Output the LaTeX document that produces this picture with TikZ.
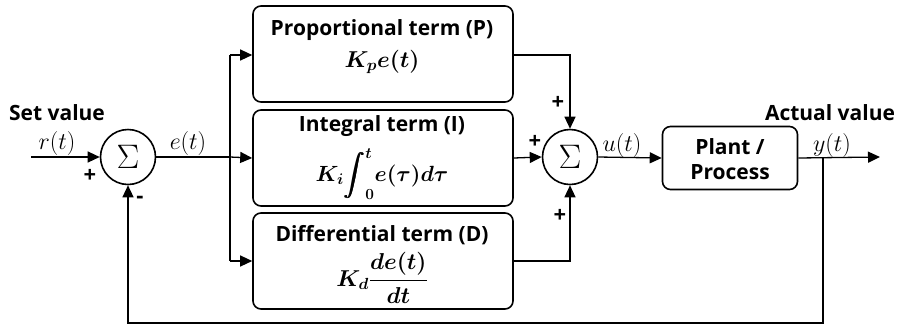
\RequirePackage{fix-cm}
\documentclass[tikz,border=0pt]{standalone}
\usepackage{amsmath,bm}
\usepackage{fontspec}
\setmainfont{Open Sans}
\usetikzlibrary{arrows.meta}
\begin{document}
\begin{tikzpicture}[x=1pt,y=-1pt,
  line width=1.3pt,
  arr/.style={-{Triangle[length=12pt,width=11pt]}},
  blk/.style={draw,rounded corners=8pt,line width=1.6pt,inner sep=0pt},
  ttl/.style={font=\bfseries\fontsize{21}{25}\selectfont,align=center,inner sep=0pt},
  fml/.style={font=\fontsize{23}{26}\selectfont,inner sep=0pt},
  sumc/.style={draw,circle,minimum size=55pt,inner sep=0pt,line width=1.6pt},
  sig/.style={font=\fontsize{34}{36}\selectfont,inner sep=0pt},
  lab/.style={font=\fontsize{24}{26}\selectfont,inner sep=0pt},
  sgn/.style={font=\bfseries\fontsize{22}{24}\selectfont,inner sep=0pt}]
\useasboundingbox (0,0) rectangle (899,325);
% summing junctions
\node[sumc] (s1) at (128,157) {};
\node[sumc] (s2) at (570,157) {};
\node[sig] (g1) at (s1.center) {$\Sigma$};
\node[sig] (g2) at (s2.center) {$\Sigma$};
% blocks
\node[blk,minimum width=260pt,minimum height=96pt] (P) at (383,54) {};
\node[blk,minimum width=260pt,minimum height=96pt] (I) at (383,158) {};
\node[blk,minimum width=260pt,minimum height=96pt] (D) at (383,261) {};
\node[blk,minimum width=135pt,minimum height=63pt] (G) at (730,158) {};
% block texts
\node[ttl] (Pt) at (382,30) {Proportional term (P)};
\node[fml] (Pf) at (382,62) {$\bm{K_p e(t)}$};
\node[ttl] (It) at (382,126) {Integral term (I)};
\node[fml,font=\fontsize{22}{24}\selectfont] (If) at (382,174) {$\bm{K_i \!\displaystyle\int_0^t \!e(\tau) d\tau}$};
\node[ttl] (Dt) at (382,235) {Differential term (D)};
\node[fml] (Df) at (382,278) {$\bm{K_d \dfrac{de(t)}{dt}}$};
\node[ttl] (Gt) at (730,159) {Plant /\\Process};
% coordinates
\coordinate (in) at (31,157);
\coordinate (br) at (230,157);
\coordinate (bP) at (230,55);
\coordinate (bD) at (230,261);
\coordinate (out) at (880,157);
\coordinate (fb) at (823,157);
\coordinate (fbb) at (823,323);
% connectors
\draw[arr] (in) -- (s1.west);
\draw (s1.east) -- (br);
\draw (bP) -- (bD);
\draw[arr] (bP) -- (bP -| P.west);
\draw[arr] (br) -- (I.west);
\draw[arr] (bD) -- (bD -| D.west);
\draw[arr] (bP -| P.east) -| (s2.north);
\draw[arr] (I.east) -- (s2.west);
\draw[arr] (bD -| D.east) -| (s2.south);
\draw[arr] (s2.east) -- (G.west);
\draw[arr] (G.east) -- (out);
\draw[arr] (fb) -- (fbb) -| (s1.south);
% labels
\node[ttl] (sv) at (57,113) {Set value};
\node[ttl] (av) at (830,113) {Actual value};
\node[lab] (rl) at (57,143) {$r(t)$};
\node[lab] (el) at (188,143) {$e(t)$};
\node[lab] (ul) at (622,145) {$u(t)$};
\node[lab] (yl) at (832,145) {$y(t)$};
\node[sgn] (p1) at (90,176) {+};
\node[sgn] (m1) at (140,200) {-};
\node[sgn] (p2) at (558,103) {+};
\node[sgn] (p3) at (535,142) {+};
\node[sgn] (p4) at (560,216) {+};
\end{tikzpicture}
\end{document}
